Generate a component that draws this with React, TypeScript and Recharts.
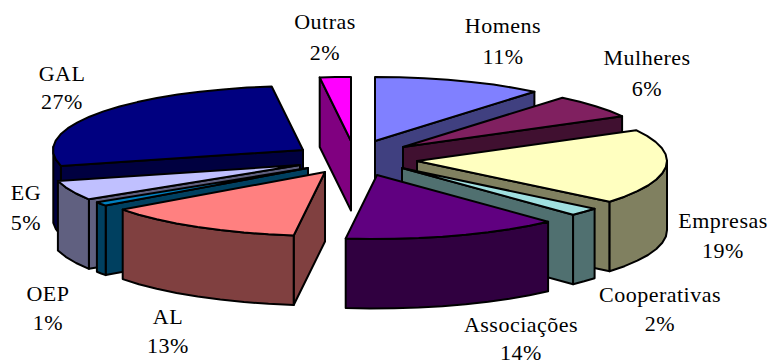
import { Pie, PieChart } from 'recharts';

const categories = ['Homens', 'Mulheres', 'Empresas', 'Cooperativas', 'Associações', 'AL', 'OEP', 'EG', 'GAL', 'Outras'];
const shares = [11, 6, 19, 2, 14, 13, 1, 5, 27, 2];
const topColors = ['#8080ff', '#802060', '#ffffc0', '#a0e0e0', '#600080', '#ff8080', '#0080c0', '#c0c0ff', '#000080', '#ff00ff'];
const sideColors = ['#404080', '#401030', '#808060', '#507070', '#300040', '#804040', '#004060', '#606080', '#000040', '#800080'];

const data = categories.map((name, i) => ({ name, value: shares[i], top: topColors[i], side: sideColors[i] }));

// how far each slice is pulled out of the pie, in pixels
const explode: Record<string, [number, number]> = {
    Homens: [25, -14],
    Mulheres: [53, -8],
    Empresas: [67, 6],
    Cooperativas: [52, 13],
    Associações: [27, 20],
    AL: [-25, 17],
    OEP: [-42, 13],
    EG: [-50, 10],
    GAL: [-47, -5],
    Outras: [1, -14],
};

// label centre x, name baseline y, percent baseline y
const labelAt: Record<string, [number, number, number]> = {
    Homens: [503, 33, 64],
    Mulheres: [647, 65, 96],
    Empresas: [723, 228, 258],
    Cooperativas: [660, 302, 331],
    Associações: [521, 332, 360],
    AL: [168, 324, 353],
    OEP: [48, 301, 330],
    EG: [26, 200, 230],
    GAL: [62, 81, 109],
    Outras: [325, 29, 60],
};

const leftSide = ['AL', 'OEP', 'EG', 'GAL', 'Outras'];
const SQUASH = 0.256;
const DEPTH = 69.5;

const toPath = (pts: number[][]) => 'M' + pts.map((p) => `${p[0].toFixed(1)},${p[1].toFixed(1)}`).join('L') + 'Z';

function Slice3D(props: any, wanted: boolean) {
    if (!wanted) return <g />;
    const { cx, cy, outerRadius, startAngle, endAngle, payload } = props;
    const [dx, dy] = explode[payload.name];
    const ox = cx + dx;
    const oy = cy + dy;
    const from = Math.max(startAngle, endAngle);
    const to = Math.min(startAngle, endAngle);
    // coarse steps, the original outline is faceted
    const steps = Math.max(2, Math.ceil((from - to) / 6));
    const arc: number[][] = [];
    for (let i = 0; i <= steps; i++) {
        const a = ((from + ((to - from) * i) / steps) * Math.PI) / 180;
        arc.push([ox + outerRadius * Math.cos(a), oy - outerRadius * SQUASH * Math.sin(a)]);
    }
    const apex = [ox, oy];
    const drop = (p: number[]) => [p[0], p[1] + DEPTH];
    const first = arc[0];
    const last = arc[arc.length - 1];
    const faces: number[][][] = [];
    if (first[0] < apex[0]) faces.push([apex, first, drop(first), drop(apex)]);
    if (apex[0] < last[0]) faces.push([last, apex, drop(apex), drop(last)]);
    const wall = arc.filter((p, i) => {
        const prev = arc[i - 1];
        const next = arc[i + 1];
        return (prev && p[0] < prev[0]) || (next && next[0] < p[0]);
    });
    if (wall.length > 1) faces.push([...wall, ...wall.map(drop).reverse()]);
    const stroke = { stroke: '#000', strokeWidth: 2, strokeLinejoin: 'round' as const };
    return (
        <g>
            {faces.map((f, i) => (
                <path key={i} d={toPath(f)} fill={payload.side} {...stroke} />
            ))}
            <path d={toPath([apex, ...arc])} fill={payload.top} {...stroke} />
        </g>
    );
}

function SliceLabel(props: any, wanted: boolean) {
    if (!wanted) return <g />;
    const name = props.payload?.name ?? props.name;
    const [x, y1, y2] = labelAt[name];
    const font = { fontFamily: '"Liberation Serif", serif', fontSize: 22, letterSpacing: 0.5, fill: '#000', textAnchor: 'middle' as const };
    return (
        <g>
            <text x={x} y={y1} {...font}>{name}</text>
            <text x={x} y={y2} {...font}>{`${props.value}%`}</text>
        </g>
    );
}

export default function App() {
    return (
        <div style={{ position: 'absolute', left: 0, top: 0, width: 769, height: 362, background: '#fff' }}>
            <PieChart width={769} height={362} margin={{ top: 0, right: 0, bottom: 0, left: 0 }}>
                {/* left half runs counter-clockwise so the nearer slices paint last */}
                <Pie
                    data={[...data].reverse()}
                    dataKey="value"
                    cx={350}
                    cy={155}
                    outerRadius={250}
                    startAngle={-270}
                    endAngle={90}
                    isAnimationActive={false}
                    labelLine={false}
                    label={(p: any) => SliceLabel(p, leftSide.includes(p.payload?.name ?? p.name))}
                    shape={(p: any) => Slice3D(p, leftSide.includes(p.payload.name))}
                />
                <Pie
                    data={data}
                    dataKey="value"
                    cx={350}
                    cy={155}
                    outerRadius={250}
                    startAngle={90}
                    endAngle={-270}
                    isAnimationActive={false}
                    labelLine={false}
                    label={(p: any) => SliceLabel(p, !leftSide.includes(p.payload?.name ?? p.name))}
                    shape={(p: any) => Slice3D(p, !leftSide.includes(p.payload.name))}
                />
            </PieChart>
        </div>
    );
}
